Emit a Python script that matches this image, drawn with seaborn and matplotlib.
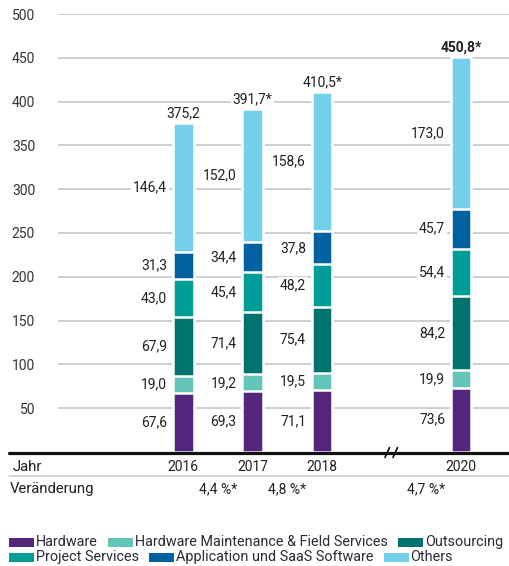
import matplotlib
matplotlib.use("Agg")
import matplotlib.pyplot as plt
import matplotlib.transforms as mtransforms
from matplotlib.lines import Line2D
from matplotlib.patches import Rectangle
import seaborn as sns
import numpy as np
import pandas as pd

# ---- data ----
years = ["2016", "2017", "2018", "2020"]
positions = [0, 1, 2, 4]
series = ["Hardware", "Hardware Maintenance & Field Services", "Outsourcing",
          "Project Services", "Application und SaaS Software", "Others"]
hardware = [67.6, 69.3, 71.1, 73.6]
hw_maint = [19.0, 19.2, 19.5, 19.9]
outsourcing = [67.9, 71.4, 75.4, 84.2]
project = [43.0, 45.4, 48.2, 54.4]
application = [31.3, 34.4, 37.8, 45.7]
others = [146.4, 152.0, 158.6, 173.0]
totals = ["375,2", "391,7*", "410,5*", "450,8*"]
change_pos = [0.5, 1.5, 3.5]
change_labels = ["4,4 %*", "4,8 %*", "4,7 %*"]
colors = ["#54257c", "#63c5ba", "#00736f", "#009e97", "#0061a0", "#73cfea"]

values = [hardware, hw_maint, outsourcing, project, application, others]

sns.set_theme(style="white")
plt.rcParams["font.family"] = ["Roboto", "DejaVu Sans"]
TXT = "#231f20"
FS_WORD = 10.7
FS_LEG = 10.4

W, H = 509, 566
fig = plt.figure(figsize=(W / 100, H / 100), dpi=100)
ax = fig.add_axes([58 / W, 1 - 452 / H, 1 - 58 / W, (452 - 14) / H])

cum = np.cumsum(np.array(values), axis=0)
bw = 0.30
# draw from the top (total) down so each lower cumulative bar overlays
for i in range(len(series) - 1, -1, -1):
    df = pd.DataFrame({"pos": positions, "val": cum[i]})
    sns.barplot(data=df, x="pos", y="val", native_scale=True, orient="x",
                width=bw, color=colors[i], saturation=1, errorbar=None,
                edgecolor="white", linewidth=1.8, ax=ax, zorder=2)

ax.set_xlim(-1.80, 4.69)
ax.set_ylim(0, 500)
ax.set_yticks(np.arange(50, 501, 50))
ax.set_yticklabels([str(v) for v in range(50, 501, 50)], color="#333333", fontsize=10)
ax.tick_params(axis="y", length=0, pad=16.5)
ax.set_xticks([])
ax.set_xlabel("")
ax.set_ylabel("")
ax.grid(axis="y", color="#c8cbce", linewidth=1.3, zorder=0)
ax.set_axisbelow(True)
for s in ax.spines.values():
    s.set_visible(False)

# segment labels
bbox = dict(facecolor="white", edgecolor="none", pad=1.2)
for j, p in enumerate(positions):
    bottom = 0
    for i in range(len(series)):
        v = values[i][j]
        ax.text(p - 0.23, bottom + v / 2, f"{v:.1f}".replace(".", ","),
                ha="right", va="center", fontsize=10, color=TXT, bbox=bbox, zorder=3)
        bottom += v
    ax.text(p, cum[-1][j] + 3, totals[j], ha="center", va="bottom", fontsize=10,
            color=TXT, bbox=bbox, zorder=3,
            fontweight="bold" if j == len(positions) - 1 else "normal")

# rows below axis
tr = mtransforms.blended_transform_factory(ax.transData, fig.transFigure)
fig.text(13 / W, 1 - 467 / H, "Jahr", ha="left", va="center", fontsize=FS_WORD, color=TXT)
fig.text(10 / W, 1 - 489 / H, "Veränderung", ha="left", va="center", fontsize=FS_WORD, color=TXT)
for p, y in zip(positions, years):
    ax.text(p, 1 - 467 / H, y, transform=tr, ha="center", va="center", fontsize=10, color=TXT)
for p, c in zip(change_pos, change_labels):
    ax.text(p, 1 - 489 / H, c, transform=tr, ha="center", va="center", fontsize=10, color=TXT)

# base line with break
yb = 1 - 452.5 / H
fig.add_artist(Line2D([9 / W, 1], [yb, yb], lw=2.3, color="#111111"))
fig.add_artist(Rectangle((386 / W, 1 - 456 / H), 11 / W, 7 / H, facecolor="white",
                         edgecolor="none", transform=fig.transFigure))
for x0 in (385, 393):
    fig.add_artist(Line2D([x0 / W, (x0 + 4.5) / W], [1 - 457.5 / H, 1 - 447.5 / H],
                          lw=1.2, color="#111111"))
fig.add_artist(Line2D([9 / W, 1], [1 - 475.5 / H] * 2, lw=1.1, color="#c8cbce"))

# legend (flow layout)
fig.canvas.draw()
renderer = fig.canvas.get_renderer()
rows = [[0, 1, 2], [3, 4, 5]]
row_y = [542, 557]
for r, idxs in enumerate(rows):
    x = 9
    yc = row_y[r]
    for i in idxs:
        fig.add_artist(Rectangle((x / W, 1 - (yc + 4.5) / H), 25 / W, 9 / H,
                                 facecolor=colors[i], edgecolor="none",
                                 transform=fig.transFigure))
        t = fig.text((x + 27) / W, 1 - yc / H, series[i], ha="left", va="center",
                     fontsize=FS_LEG, color="#2b2838")
        bb = t.get_window_extent(renderer)
        x = bb.x1 + 10

fig.savefig("out.png", dpi=100)
